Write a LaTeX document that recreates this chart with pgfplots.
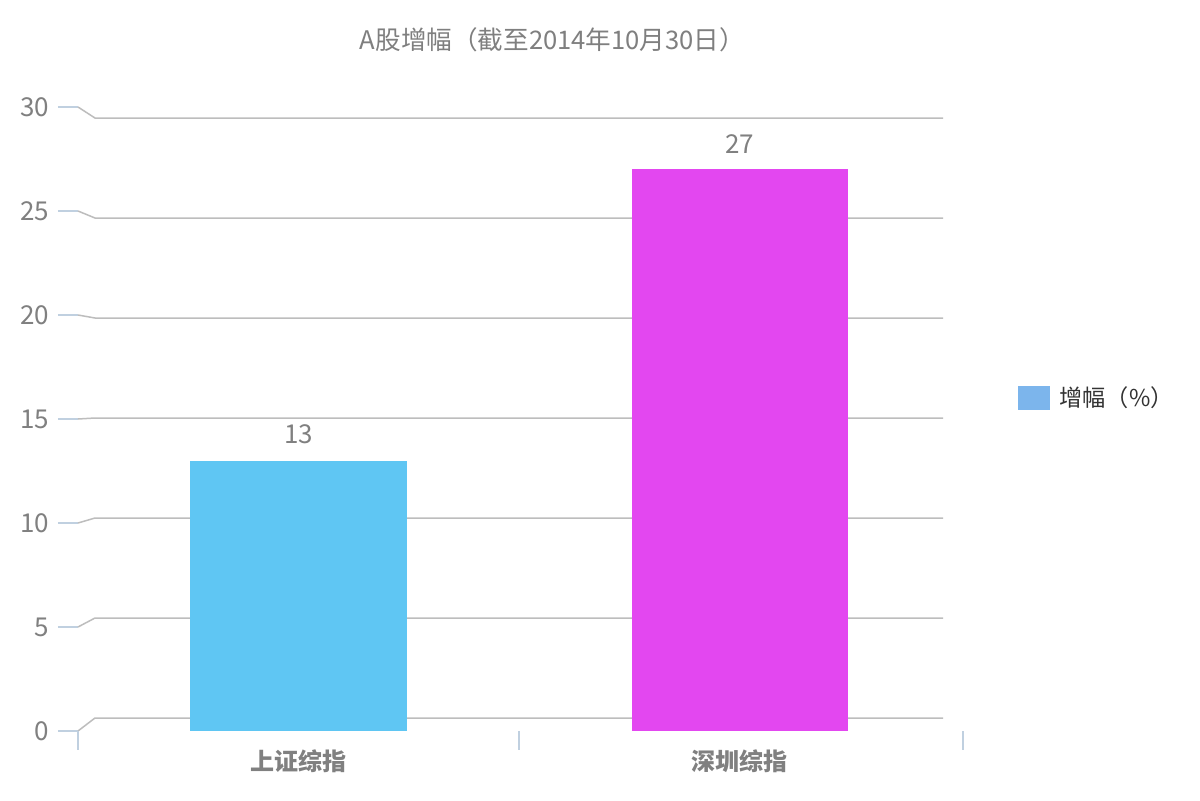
\documentclass[border=0pt]{standalone}
\usepackage{fontspec}
\setmainfont{Noto Sans CJK SC}
\usepackage{pgfplots}
\pgfplotsset{compat=1.18}
\definecolor{titlegray}{HTML}{7F7F7F}
\definecolor{tickgray}{HTML}{808080}
\definecolor{gridgray}{HTML}{BDBDBD}
\definecolor{tickblue}{HTML}{C0D0E0}
\definecolor{barone}{HTML}{5FC6F3}
\definecolor{bartwo}{HTML}{E347F0}
\definecolor{legblue}{HTML}{7CB5EC}
\definecolor{legtext}{HTML}{333333}
\begin{document}
\begin{tikzpicture}[x=1pt,y=1pt]
\fill[white] (0,0) rectangle (600,400);
\useasboundingbox (0,0) rectangle (600,400);
\node[text=titlegray, font=\fontsize{12.8}{15}\selectfont] at (276.25,380) {A股增幅（截至2014年10月30日）};
\begin{axis}[
  at={(39pt,34.5pt)}, anchor=south west,
  scale only axis, width=441pt, height=312pt,
  xmin=-0.5, xmax=1.5, ymin=0, ymax=30,
  clip=false,
  axis line style={draw=none},
  major tick length=0pt, tick style={draw=none},
  ytick={0,5,...,30},
  xtick={0,1}, xticklabels={上证综指,深圳综指},
  /pgf/number format/assume math mode=true,
  yticklabel style={text=tickgray, font=\fontsize{13}{15}\selectfont, xshift=-11pt},
  xticklabel style={text=tickgray, font=\bfseries\fontsize{12}{14}\selectfont, yshift=-6pt},
  ybar, bar width=108pt, bar shift=0pt,
  nodes near coords,
  nodes near coords style={text=tickgray, font=\fontsize{13}{15}\selectfont, anchor=south, inner sep=0pt, yshift=8pt},
  legend style={at={(1.0658,0.5337)}, anchor=west, draw=none, fill=none, inner sep=0pt,
    font=\fontsize{11.6}{13}\selectfont, text=legtext,
    /tikz/every odd column/.append style={column sep=2.5pt}},
  legend image code/.code={\fill[#1] (0pt,-6pt) rectangle (16pt,6pt);},
]
\pgfplotsinvokeforeach{0,5,...,30}{
  \draw[tickblue, line width=0.75pt] (axis cs:-0.5454,#1) -- (axis cs:-0.5,#1);
  \draw[gridgray, line width=0.75pt] (axis cs:-0.5,#1) -- (axis cs:-0.4615,{(13+20*#1)/20.8}) -- (axis cs:1.4615,{(13+20*#1)/20.8});
}
\draw[tickblue, line width=0.75pt] (axis cs:-0.5,0) -- (axis cs:-0.5,-0.913);
\draw[tickblue, line width=0.75pt] (axis cs:0.5,0) -- (axis cs:0.5,-0.913);
\draw[tickblue, line width=0.75pt] (axis cs:1.5068,0) -- (axis cs:1.5068,-0.913);
\addplot[fill=barone, draw=none, forget plot] coordinates {(0,13)};
\addplot[fill=bartwo, draw=none, forget plot] coordinates {(1,27)};
\addlegendimage{fill=legblue, draw=none}
\addlegendentry{增幅（\%）}
\end{axis}
\end{tikzpicture}
\end{document}
